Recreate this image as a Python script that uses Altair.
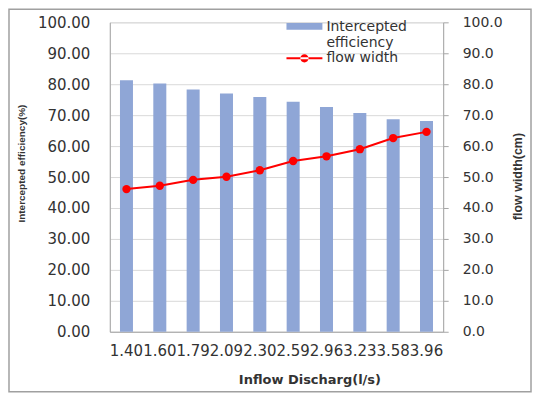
import altair as alt
import pandas as pd

discharge = ["1.40", "1.60", "1.79", "2.09", "2.30", "2.59", "2.96", "3.23", "3.58", "3.96"]
efficiency = [81.3, 80.2, 78.3, 77.0, 75.9, 74.3, 72.6, 70.7, 68.7, 68.1]
flow_width = [46.1, 47.2, 49.1, 50.1, 52.2, 55.2, 56.7, 59.0, 62.6, 64.6]
bar_name = "Intercepted efficiency"
line_name = "flow width"
y_ticks = [0, 10, 20, 30, 40, 50, 60, 70, 80, 90, 100]

df = pd.DataFrame({
    "discharge": discharge,
    "efficiency": efficiency,
    "flow_width": flow_width,
    "bar_series": [bar_name] * len(discharge),
    "line_series": [line_name] * len(discharge),
})

BAR = "#8FA6D6"
RED = "#FF0000"
AXC = "#A6A6A6"
TXT = "#333333"
FONT = "DejaVu Sans"

x_enc = alt.X(
    "discharge:N", sort=discharge, title="Inflow Discharg(l/s)",
    scale=alt.Scale(paddingInner=0.61, paddingOuter=0.305),
    axis=alt.Axis(labelAngle=0, labelOverlap=False, ticks=False, tickSize=0,
                  labelPadding=12, domainColor=AXC, labelFont=FONT, labelFontSize=15,
                  labelColor=TXT, titleFont=FONT, titleFontSize=13, titleFontWeight="bold",
                  titleColor=TXT, titleX=200, titleY=48, titleBaseline="middle",
                  titleAnchor="middle"),
)

bars = alt.Chart(df).mark_bar().encode(
    x=x_enc,
    y=alt.Y("efficiency:Q", title="Intercepted efficiency(%)",
            scale=alt.Scale(domain=[0, 100], nice=False),
            axis=alt.Axis(values=y_ticks, format=".2f", orient="left", ticks=False, tickSize=0,
                          labelPadding=20, domainColor=AXC, gridColor="#D9D9D9", grid=True,
                          labelFont=FONT, labelFontSize=15, labelColor=TXT,
                          titleFont="Liberation Sans", titleFontSize=10,
                          titleFontWeight="bold", titleColor=TXT, titleX=-88, titleY=141,
                          titleBaseline="middle", titleAngle=270)),
    color=alt.Color("bar_series:N", scale=alt.Scale(domain=[bar_name], range=[BAR]),
                    legend=alt.Legend(orient="none", legendX=177, legendY=-20, title=None,
                                      padding=0, symbolType="M-1,0.15H1V0.52H-1Z",
                                      symbolSize=1296, symbolStrokeWidth=0,
                                      labelFont=FONT, labelFontSize=14, labelColor=TXT,
                                      labelOffset=4, labelBaseline="top",
                                      labelExpr="datum.label == 'Intercepted efficiency' ? ['Intercepted', 'efficiency'] : datum.label")),
)

y_right = alt.Y("flow_width:Q", title="flow width(cm)",
                scale=alt.Scale(domain=[0, 100], nice=False),
                axis=alt.Axis(values=y_ticks, format=".1f", orient="right", ticks=True, tickSize=5,
                              tickColor=AXC, labelPadding=14, domainColor=AXC, grid=False,
                              labelFont=FONT, labelFontSize=14, labelColor=TXT,
                              titleFont="Liberation Sans", titleFontSize=12.5,
                              titleFontWeight="bold", titleColor=TXT, titleX=74, titleY=154,
                              titleBaseline="middle", titleAngle=270))

line = alt.Chart(df).mark_line(color=RED, strokeWidth=2).encode(x=x_enc, y=y_right)
points = alt.Chart(df).mark_circle(size=70, opacity=1).encode(
    x=x_enc, y=y_right,
    color=alt.Color("line_series:N", scale=alt.Scale(domain=[line_name], range=[RED]),
                    legend=alt.Legend(orient="none", legendX=177, legendY=18, title=None,
                                      padding=0,
                                      symbolType="M-1,-0.06H1V0.06H-1Z M-0.23,0 A0.23,0.23 0 1,0 0.23,0 A0.23,0.23 0 1,0 -0.23,0Z",
                                      symbolSize=1296, symbolStrokeWidth=0,
                                      symbolFillColor=RED,
                                      labelFont=FONT, labelFontSize=14, labelColor=TXT,
                                      labelOffset=4, labelBaseline="middle")),
)

frame = alt.Chart(pd.DataFrame({"f": [0]})).mark_rect(
    fill="transparent", stroke="#A0A0A0", strokeWidth=1.5
).encode(x=alt.value(-101), x2=alt.value(422), y=alt.value(-13), y2=alt.value(370))

right_layer = alt.layer(line, points)

chart = alt.layer(frame, bars, right_layer).resolve_scale(
    y="independent", color="independent"
).resolve_legend(color="independent").properties(
    width=334, height=310,
    autosize=alt.AutoSizeParams(type="none"),
    padding={"left": 102, "top": 14, "right": 90, "bottom": 62},
).configure_view(stroke=None).configure(background="white")

chart.save("out.html", embed_options={"renderer": "svg", "actions": False})
